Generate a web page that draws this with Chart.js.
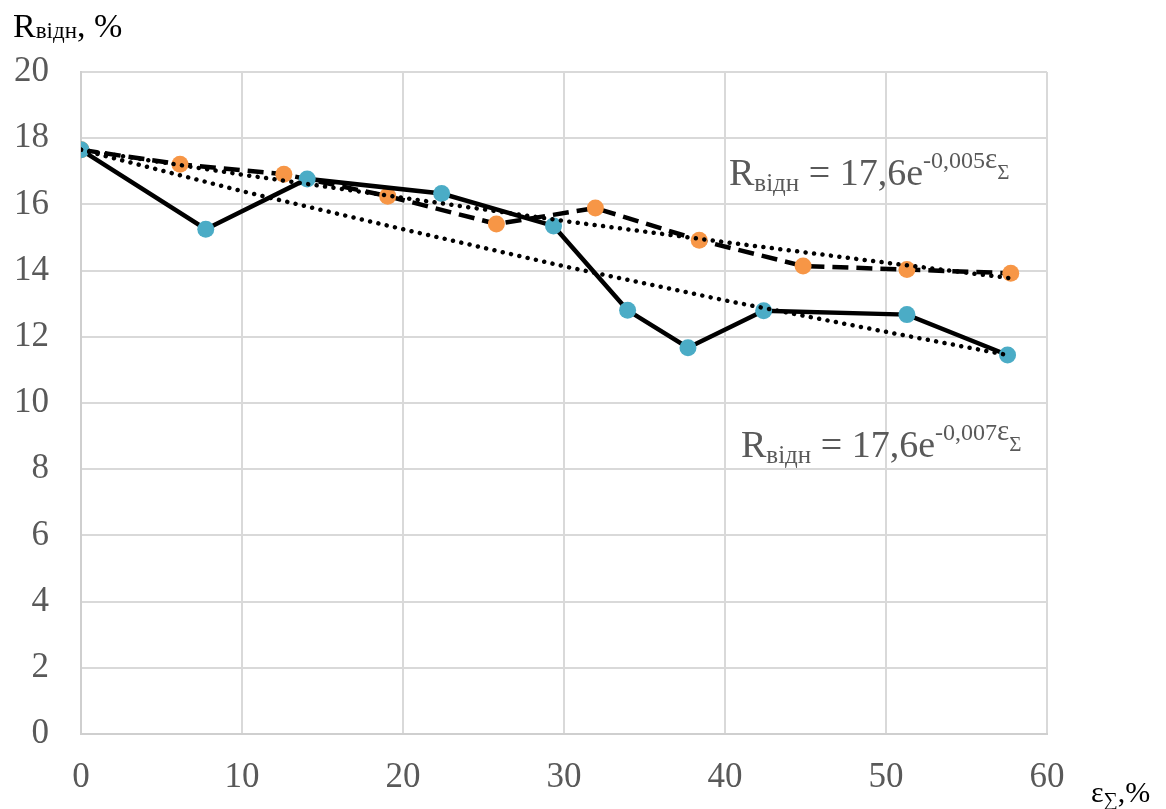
<!DOCTYPE html>
<html>
<head>
<meta charset="utf-8">
<script src="https://cdn.jsdelivr.net/npm/chart.js@4"></script>
<style>
    html, body { margin: 0; padding: 0; background: #fff; }
    #wrap { width: 1166px; height: 809px; }
</style>
</head>
<body>
<div id="wrap"><canvas id="relaxChart" width="1166" height="809"></canvas></div>
<script>
// values
const blueX = [0, 7.75, 14.05, 22.4, 29.35, 33.95, 37.7, 42.4, 51.3, 57.55];
const blueY = [17.65, 15.25, 16.77, 16.33, 15.35, 12.8, 11.67, 12.79, 12.67, 11.45];

const orangeX = [0, 6.15, 12.6, 19.05, 25.8, 31.95, 38.4, 44.85, 51.3, 57.75];
const orangeY = [17.65, 17.21, 16.91, 16.25, 15.41, 15.89, 14.92, 14.14, 14.03, 13.92];

// dotted trend lines, read at a few points off the picture
const trendUpperX = [0, 10, 20, 30, 40, 50, 57.75];
const trendUpperY = [17.65, 16.9, 16.2, 15.5, 14.86, 14.24, 13.77];
const trendLowerX = [0, 10, 20, 30, 40, 50, 57.55];
const trendLowerY = [17.65, 16.4, 15.25, 14.13, 13.1, 12.15, 11.45];

const xTicks = [0, 10, 20, 30, 40, 50, 60];
const yTicks = [0, 2, 4, 6, 8, 10, 12, 14, 16, 18, 20];

const SERIF = "'Liberation Serif', 'Times New Roman', 'DejaVu Serif', serif";

function toPoints(xs, ys) {
    return xs.map(function(x, i) { return { x: x, y: ys[i] }; });
}

// draw a run of text pieces with sub/superscripts
function drawRich(ctx, x, y, parts) {
    ctx.save();
    ctx.textBaseline = 'alphabetic';
    ctx.textAlign = 'left';
    parts.forEach(function(p) {
        ctx.font = p.size + 'px ' + SERIF;
        ctx.fillStyle = p.color;
        ctx.fillText(p.t, x, y + (p.dy || 0));
        x += ctx.measureText(p.t).width;
    });
    ctx.restore();
}

const labelsPlugin = {
    id: 'labels',
    afterDraw: function(chart) {
        const ctx = chart.ctx;
        const gray = '#595959';
        // axis titles
        drawRich(ctx, 13, 37, [
            { t: 'R', size: 34, color: '#000' },
            { t: 'відн', size: 23, dy: 1, color: '#000' },
            { t: ', %', size: 34, color: '#000' }
        ]);
        drawRich(ctx, 1091, 802, [
            { t: 'ε', size: 30, color: '#000' },
            { t: '∑', size: 20, dy: 4, color: '#000' },
            { t: ',%', size: 30, color: '#000' }
        ]);
        // equations of the trend lines
        drawRich(ctx, 729, 185, [
            { t: 'R', size: 38, color: gray },
            { t: 'відн', size: 25, dy: 6, color: gray },
            { t: ' = 17,6e', size: 38, color: gray },
            { t: '-0,005', size: 24, dy: -17, color: gray },
            { t: 'ε', size: 29, dy: -17, color: gray },
            { t: 'Σ', size: 21, dy: -6, color: gray }
        ]);
        drawRich(ctx, 741, 457, [
            { t: 'R', size: 38, color: gray },
            { t: 'відн', size: 25, dy: 6, color: gray },
            { t: ' = 17,6e', size: 38, color: gray },
            { t: '-0,007', size: 24, dy: -17, color: gray },
            { t: 'ε', size: 29, dy: -17, color: gray },
            { t: 'Σ', size: 21, dy: -6, color: gray }
        ]);
    }
};

const ctx = document.getElementById('relaxChart').getContext('2d');

new Chart(ctx, {
    type: 'line',
    data: {
        datasets: [{
            label: 'trend upper',
            data: toPoints(trendUpperX, trendUpperY),
            borderColor: '#000',
            borderWidth: 4.5,
            borderDash: [0.01, 8.5],
            borderCapStyle: 'round',
            pointRadius: 0,
            fill: false
        }, {
            label: 'trend lower',
            data: toPoints(trendLowerX, trendLowerY),
            borderColor: '#000',
            borderWidth: 4.5,
            borderDash: [0.01, 8.5],
            borderCapStyle: 'round',
            pointRadius: 0,
            fill: false
        }, {
            label: 'series 1',
            data: toPoints(blueX, blueY),
            borderColor: '#000',
            borderWidth: 4.5,
            pointRadius: 8.5,
            pointBorderWidth: 0,
            pointBackgroundColor: '#4bacc6',
            fill: false
        }, {
            label: 'series 2',
            data: toPoints(orangeX, orangeY),
            borderColor: '#000',
            borderWidth: 4.5,
            borderDash: [16, 8],
            pointRadius: 8.5,
            pointBorderWidth: 0,
            pointBackgroundColor: '#f79646',
            fill: false
        }]
    },
    options: {
        responsive: false,
        animation: false,
        layout: {
            padding: { left: 0, top: 72, right: 119, bottom: 0 }
        },
        plugins: {
            legend: { display: false },
            tooltip: { enabled: false }
        },
        scales: {
            x: {
                type: 'linear',
                min: 0,
                max: 60,
                afterFit: function(scale) { scale.height = 75; },
                afterBuildTicks: function(scale) {
                    scale.ticks = xTicks.map(function(v) { return { value: v }; });
                },
                ticks: {
                    color: '#595959',
                    padding: 23,
                    font: { family: SERIF, size: 35 }
                },
                grid: { color: '#d9d9d9', lineWidth: 2, drawTicks: false },
                border: { color: '#cfcfcf', width: 2 }
            },
            y: {
                min: 0,
                max: 20,
                afterFit: function(scale) { scale.width = 81; },
                afterBuildTicks: function(scale) {
                    scale.ticks = yTicks.map(function(v) { return { value: v }; });
                },
                ticks: {
                    color: '#595959',
                    padding: 32,
                    font: { family: SERIF, size: 35 }
                },
                grid: { color: '#d9d9d9', lineWidth: 2, drawTicks: false },
                border: { color: '#cfcfcf', width: 2 }
            }
        }
    },
    plugins: [labelsPlugin]
});
</script>
</body>
</html>
